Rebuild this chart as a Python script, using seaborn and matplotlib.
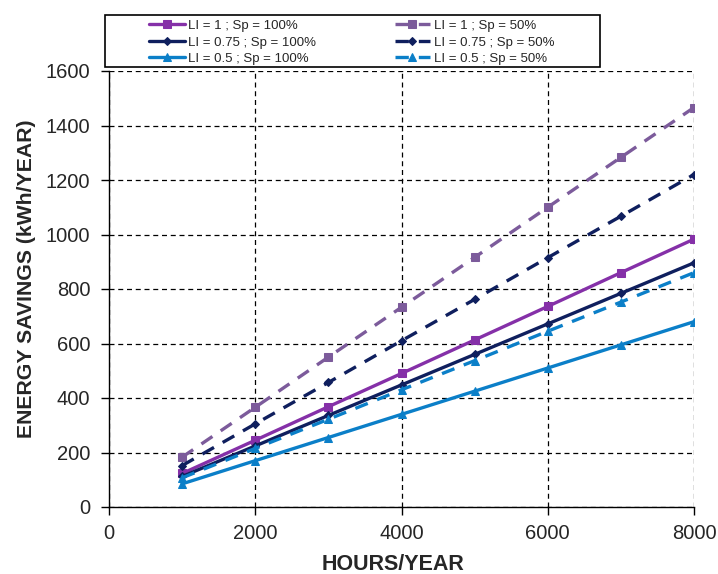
import matplotlib
matplotlib.use("Agg")
import matplotlib.pyplot as plt
from matplotlib.patches import Rectangle
import seaborn as sns
import pandas as pd

hours = [1000, 2000, 3000, 4000, 5000, 6000, 7000, 8000]

li1_sp100 = [123, 245, 368, 490, 613, 736, 860, 983]
li1_sp50 = [183, 366, 550, 733, 916, 1100, 1283, 1466]
li075_sp100 = [112, 224, 336, 448, 560, 672, 784, 896]
li075_sp50 = [152, 305, 457, 610, 762, 915, 1067, 1220]
li05_sp100 = [85, 170, 255, 340, 425, 510, 595, 680]
li05_sp50 = [107, 215, 322, 430, 537, 645, 752, 860]

labels = [
    "LI = 1 ; Sp = 100%", "LI = 1 ; Sp = 50%",
    "LI = 0.75 ; Sp = 100%", "LI = 0.75 ; Sp = 50%",
    "LI = 0.5 ; Sp = 100%", "LI = 0.5 ; Sp = 50%",
]
series = [li1_sp100, li1_sp50, li075_sp100, li075_sp50, li05_sp100, li05_sp50]
colors = ["#8530A8", "#7C5B9B", "#0F1F5E", "#0F1F5E", "#0B7FC8", "#0B7FC8"]
markers = ["s", "s", "D", "D", "^", "^"]
msizes = [6, 6, 4, 4, 6, 6]
styles = ["-", (0, (4, 3)), "-", (0, (4, 3)), "-", (0, (4, 3))]

sns.set_theme(style="white")
plt.rcParams["font.family"] = ["Liberation Sans", "DejaVu Sans"]

W, H = 718, 574
fig = plt.figure(figsize=(W / 100, H / 100), dpi=100)
ax = fig.add_axes([109 / W, 1 - 507 / H, (694 - 109) / W, (507 - 71) / H])

for lab, vals, c, m, ms, ls in zip(labels, series, colors, markers, msizes, styles):
    df = pd.DataFrame({"hours": hours, "kwh": vals})
    sns.lineplot(data=df, x="hours", y="kwh", ax=ax, color=c, marker=m,
                 markersize=ms, markeredgecolor=c, linewidth=2.4,
                 linestyle=ls, label=lab, legend=False)

ax.set_xlim(0, 8000)
ax.set_ylim(0, 1600)
ax.set_xticks(range(0, 8001, 2000))
ax.set_yticks(range(0, 1601, 200))
ax.grid(True, color="black", linestyle=(0, (4, 3)), linewidth=0.9)
for side in ["top", "right"]:
    ax.spines[side].set_visible(False)
for side in ["left", "bottom"]:
    ax.spines[side].set_color("black")
    ax.spines[side].set_linewidth(1.0)
ax.tick_params(axis="both", direction="out", length=5.5, width=1, color="black",
               labelsize=14.5, bottom=True, left=True)
ax.tick_params(axis="y", pad=8)
ax.tick_params(axis="x", pad=7)
ax.set_xlabel("HOURS/YEAR", fontsize=15.5, fontweight="bold")
ax.set_ylabel("ENERGY SAVINGS (kWh/YEAR)", fontsize=15.3, fontweight="bold")
ax.xaxis.set_label_coords(0.485, -0.108)
ax.yaxis.set_label_coords(-0.125, 0.523)

# Legend: frame box spanning the top, entries inset on two columns
fig.patches.append(Rectangle((105 / W, 1 - 67 / H), 495 / W, 52 / H,
                             transform=fig.transFigure, fill=False,
                             edgecolor="black", linewidth=1.2))
handles = ax.get_lines()
order = [0, 2, 4, 1, 3, 5]
fig.legend([handles[i] for i in order], [labels[i] for i in order],
           loc="lower left", bbox_to_anchor=(149 / W, 1 - 65 / H, 405 / W, 50 / H),
           mode="expand", ncol=2, fontsize=9.5, frameon=False,
           handlelength=2.7, handletextpad=0.25, borderpad=0.0, labelspacing=0.32,
           columnspacing=2.0, borderaxespad=0)

fig.savefig("out.png", dpi=100)
